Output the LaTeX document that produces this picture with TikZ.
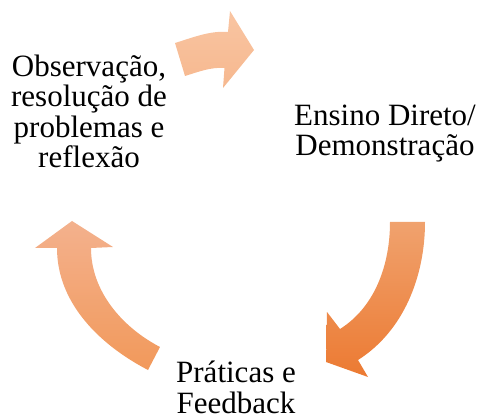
\documentclass[tikz,border=0pt]{standalone}
\usepackage{fontspec}
\setmainfont{Liberation Serif}
\definecolor{topA}{HTML}{F9C5A2}
\definecolor{topB}{HTML}{F6B88F}
\definecolor{rightA}{HTML}{F0A26E}
\definecolor{rightB}{HTML}{EC7A32}
\definecolor{leftA}{HTML}{F3B18D}
\definecolor{leftB}{HTML}{F2995B}
\begin{document}
\begin{tikzpicture}[x=1pt,y=-1pt,
  lbl/.style={font=\fontsize{31}{30.5}\selectfont, align=center, inner sep=0pt, anchor=base},
  blockarrow/.style={shading=axis, draw=none}]
\useasboundingbox (0,0) rectangle (482,414);
% top arrow (left -> right)
\path[blockarrow, top color=topA, bottom color=topB]
  (175,43) .. controls (192,37.8) and (210,30.4) .. (228,32)
  -- (230,11) -- (254,50) -- (223,88) -- (224.5,68)
  .. controls (211,66.8) and (197.4,72.2) .. (185,76) -- cycle;
% right arrow (top -> bottom-left)
\path[blockarrow, top color=rightA, bottom color=rightB]
  (390,222) -- (425,222)
  .. controls (425,276) and (403.9,331) .. (358,360)
  -- (368,377) -- (326,362) -- (327,312) -- (340,329)
  .. controls (375.5,306.6) and (390,264) .. (390,222) -- cycle;
% left arrow (bottom -> top)
\path[blockarrow, top color=leftA, bottom color=leftB]
  (160,347) -- (148,370)
  .. controls (99.5,344.7) and (57,303) .. (57,248)
  -- (35,248) -- (72,221) -- (113,247) -- (91,248)
  .. controls (91,291) and (121.8,327) .. (160,347) -- cycle;
% labels (anchor base = baseline of the last line)
\node[lbl] (obs) at (89,168) {Observação,\\resolução de\\problemas e\\reflexão};
\node[lbl] (ens) at (385,156) {Ensino Direto/\\Demonstração};
\node[lbl] (pra) at (236,413) {Práticas e\\Feedback};
\end{tikzpicture}
\end{document}
